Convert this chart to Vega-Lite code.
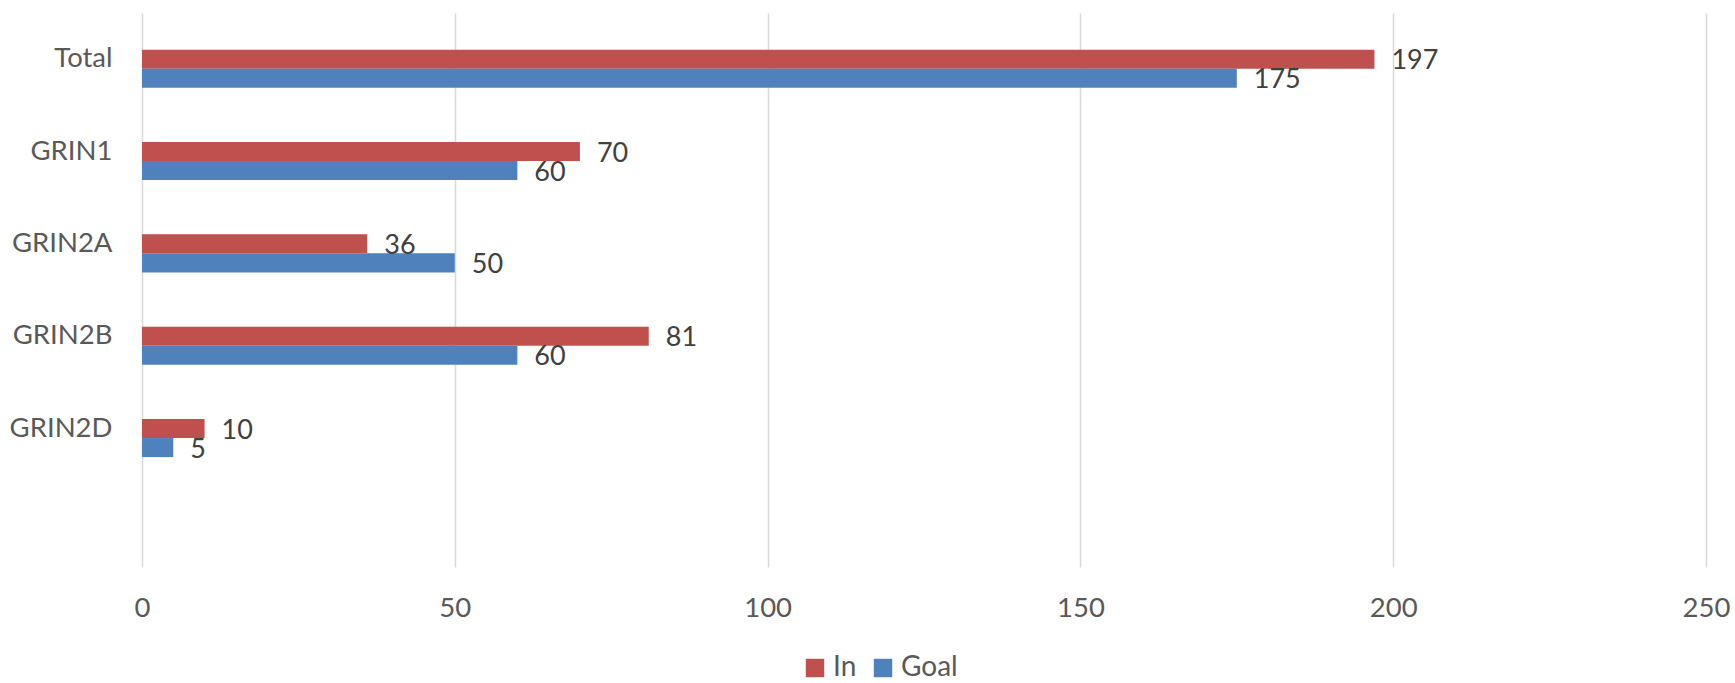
{
  "$schema": "https://vega.github.io/schema/vega-lite/v6.json",
  "width": 1564,
  "height": 554,
  "autosize": {"type": "none"},
  "padding": {"left": 142, "top": 13, "right": 29, "bottom": 116},
  "background": "white",
  "config": {
    "view": {"stroke": null},
    "font": "Lato",
    "axis": {"labelFont": "Lato", "labelFontSize": 27.5, "labelColor": "#595959"},
    "legend": {"labelFont": "Lato"}
  },
  "data": {
    "values": [
      {"category": "Total", "series": "In", "value": 197},
      {"category": "Total", "series": "Goal", "value": 175},
      {"category": "GRIN1", "series": "In", "value": 70},
      {"category": "GRIN1", "series": "Goal", "value": 60},
      {"category": "GRIN2A", "series": "In", "value": 36},
      {"category": "GRIN2A", "series": "Goal", "value": 50},
      {"category": "GRIN2B", "series": "In", "value": 81},
      {"category": "GRIN2B", "series": "Goal", "value": 60},
      {"category": "GRIN2D", "series": "In", "value": 10},
      {"category": "GRIN2D", "series": "Goal", "value": 5}
    ]
  },
  "encoding": {
    "y": {
      "field": "category",
      "type": "nominal",
      "scale": {"domain": ["Total", "GRIN1", "GRIN2A", "GRIN2B", "GRIN2D", " "], "paddingInner": 0.38, "paddingOuter": 0.19},
      "axis": {"title": null, "domain": false, "ticks": false, "tickSize": 0, "labelPadding": 30, "labelBaseline": "middle", "grid": false}
    },
    "yOffset": {
      "field": "series",
      "type": "nominal",
      "scale": {"domain": ["_", "In", "Goal"], "paddingInner": 0, "paddingOuter": 0}
    },
    "x": {
      "field": "value",
      "type": "quantitative",
      "scale": {"domain": [0, 250], "nice": false},
      "axis": {"title": null, "domain": false, "ticks": false, "tickSize": 0, "values": [0, 50, 100, 150, 200, 250], "labelPadding": 41, "labelBaseline": "middle", "grid": true, "gridColor": "#D9D9D9", "gridWidth": 1.5, "labelFlush": false}
    }
  },
  "layer": [
    {
      "mark": {"type": "bar"},
      "encoding": {
        "color": {
          "field": "series",
          "type": "nominal",
          "scale": {"domain": ["In", "Goal"], "range": ["#C0504D", "#4F81BD"]},
          "legend": {
            "title": null,
            "orient": "none",
            "direction": "horizontal",
            "legendX": 659,
            "legendY": 641,
            "padding": 0,
            "symbolType": "square",
            "symbolSize": 340,
            "symbolStrokeWidth": 0,
            "labelFontSize": 28,
            "labelColor": "#595959",
            "labelOffset": 4,
            "columnPadding": 12
          }
        }
      }
    },
    {
      "mark": {"type": "text", "align": "left", "baseline": "middle", "dx": 17, "dy": 2, "fontSize": 27, "color": "#404040", "font": "Lato"},
      "encoding": {
        "text": {"field": "value", "type": "quantitative"}
      }
    }
  ]
}
